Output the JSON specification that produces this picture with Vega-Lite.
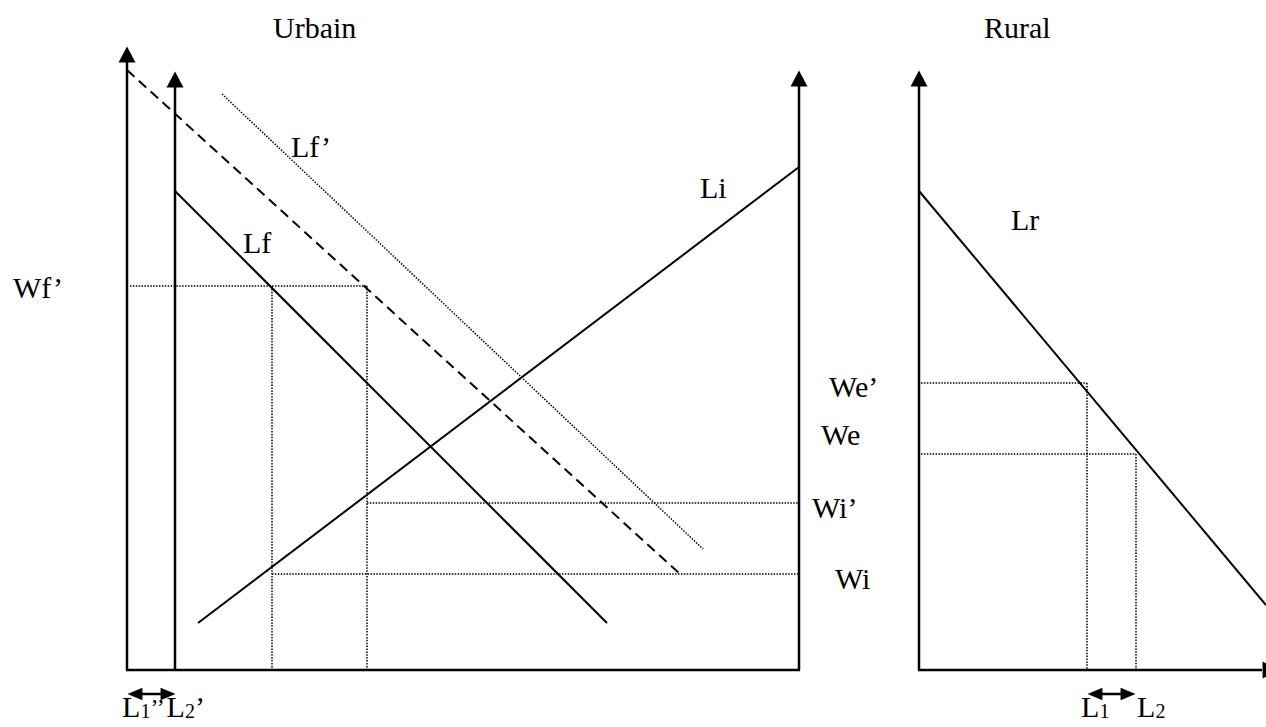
{
  "$schema": "https://vega.github.io/schema/vega-lite/v6.json",
  "width": 1266,
  "height": 727,
  "autosize": {"type": "none"},
  "padding": 0,
  "background": "white",
  "config": {"view": {"stroke": null}},
  "datasets": {
    "axes": [
      {"x": 127, "y": 60, "x2": 127, "y2": 670},
      {"x": 175, "y": 84, "x2": 175, "y2": 670},
      {"x": 126, "y": 670, "x2": 800, "y2": 670},
      {"x": 799, "y": 84, "x2": 799, "y2": 670},
      {"x": 919, "y": 84, "x2": 919, "y2": 670},
      {"x": 918, "y": 670, "x2": 1262, "y2": 670}
    ],
    "curves": [
      {"name": "Lf", "x": 175, "y": 191, "x2": 607, "y2": 623},
      {"name": "Li", "x": 198, "y": 623, "x2": 799, "y2": 167},
      {"name": "Lr", "x": 919, "y": 191, "x2": 1266, "y2": 605}
    ],
    "shifted": [
      {"name": "Lf shifted", "x": 127, "y": 70, "x2": 680, "y2": 574}
    ],
    "dotted": [
      {"name": "Lf'", "x": 222, "y": 94, "x2": 703, "y2": 549},
      {"name": "Wf'", "x": 130, "y": 286, "x2": 367, "y2": 286},
      {"name": "v1", "x": 272, "y": 286, "x2": 272, "y2": 670},
      {"name": "v2", "x": 367, "y": 286, "x2": 367, "y2": 670},
      {"name": "Wi'", "x": 367, "y": 503, "x2": 799, "y2": 503},
      {"name": "Wi", "x": 272, "y": 574, "x2": 799, "y2": 574},
      {"name": "We'", "x": 921, "y": 383, "x2": 1087, "y2": 383},
      {"name": "We", "x": 921, "y": 454, "x2": 1136, "y2": 454},
      {"name": "L1", "x": 1087, "y": 383, "x2": 1087, "y2": 670},
      {"name": "L2", "x": 1136, "y": 454, "x2": 1136, "y2": 670}
    ],
    "shafts": [
      {"x": 134, "y": 694, "x2": 168, "y2": 694},
      {"x": 1094, "y": 694, "x2": 1129, "y2": 694}
    ],
    "upHeads": [
      {"x": 127, "y": 55},
      {"x": 175, "y": 80},
      {"x": 799, "y": 79},
      {"x": 919, "y": 79}
    ],
    "rightAxisHeads": [
      {"x": 1270, "y": 670}
    ],
    "leftHeads": [
      {"x": 135, "y": 694},
      {"x": 1095, "y": 694}
    ],
    "rightHeads": [
      {"x": 168, "y": 694},
      {"x": 1128, "y": 694}
    ],
    "labels": [
      {"text": "Urbain", "x": 273, "y": 38},
      {"text": "Rural", "x": 984, "y": 38},
      {"text": "Lf’", "x": 291, "y": 157},
      {"text": "Lf", "x": 243, "y": 253},
      {"text": "Li", "x": 700, "y": 198},
      {"text": "Lr", "x": 1011, "y": 230},
      {"text": "Wf’", "x": 13, "y": 298},
      {"text": "We’", "x": 829, "y": 397},
      {"text": "We", "x": 821, "y": 445},
      {"text": "Wi’", "x": 812, "y": 518},
      {"text": "Wi", "x": 835, "y": 589},
      {"text": "L", "x": 122, "y": 717},
      {"text": "L", "x": 166.5, "y": 717},
      {"text": "’", "x": 195, "y": 717},
      {"text": "L", "x": 1081, "y": 717},
      {"text": "L", "x": 1137, "y": 717}
    ],
    "quotes": [
      {"text": "’’", "x": 150.5, "y": 715}
    ],
    "subs": [
      {"text": "1", "x": 140.5, "y": 718},
      {"text": "2", "x": 185, "y": 718},
      {"text": "1", "x": 1099.5, "y": 718},
      {"text": "2", "x": 1155.5, "y": 718}
    ]
  },
  "layer": [
    {
      "data": {"name": "axes"},
      "mark": {"type": "rule", "color": "black", "strokeWidth": 2.5},
      "encoding": {
        "x": {"field": "x", "type": "quantitative", "scale": {"domain": [0, 1266], "nice": false, "zero": false}, "axis": null},
        "y": {"field": "y", "type": "quantitative", "scale": {"domain": [0, 727], "nice": false, "zero": false, "reverse": true}, "axis": null},
        "x2": {"field": "x2"},
        "y2": {"field": "y2"}
      }
    },
    {
      "data": {"name": "curves"},
      "mark": {"type": "rule", "color": "black", "strokeWidth": 2},
      "encoding": {
        "x": {"field": "x", "type": "quantitative"},
        "y": {"field": "y", "type": "quantitative"},
        "x2": {"field": "x2"},
        "y2": {"field": "y2"}
      }
    },
    {
      "data": {"name": "shifted"},
      "mark": {"type": "rule", "color": "black", "strokeWidth": 2, "strokeDash": [10, 6]},
      "encoding": {
        "x": {"field": "x", "type": "quantitative"},
        "y": {"field": "y", "type": "quantitative"},
        "x2": {"field": "x2"},
        "y2": {"field": "y2"}
      }
    },
    {
      "data": {"name": "dotted"},
      "mark": {"type": "rule", "color": "black", "strokeWidth": 1.5, "strokeDash": [1.5, 1.4]},
      "encoding": {
        "x": {"field": "x", "type": "quantitative"},
        "y": {"field": "y", "type": "quantitative"},
        "x2": {"field": "x2"},
        "y2": {"field": "y2"}
      }
    },
    {
      "data": {"name": "shafts"},
      "mark": {"type": "rule", "color": "black", "strokeWidth": 2.5},
      "encoding": {
        "x": {"field": "x", "type": "quantitative"},
        "y": {"field": "y", "type": "quantitative"},
        "x2": {"field": "x2"},
        "y2": {"field": "y2"}
      }
    },
    {
      "data": {"name": "upHeads"},
      "mark": {"type": "point", "filled": true, "color": "black", "opacity": 1, "size": 290, "shape": "M0,-1L1,0.875L-1,0.875Z"},
      "encoding": {
        "x": {"field": "x", "type": "quantitative"},
        "y": {"field": "y", "type": "quantitative"}
      }
    },
    {
      "data": {"name": "rightAxisHeads"},
      "mark": {"type": "point", "filled": true, "color": "black", "opacity": 1, "size": 290, "shape": "M1,0L-0.875,-1L-0.875,1Z"},
      "encoding": {
        "x": {"field": "x", "type": "quantitative"},
        "y": {"field": "y", "type": "quantitative"}
      }
    },
    {
      "data": {"name": "leftHeads"},
      "mark": {"type": "point", "filled": true, "color": "black", "opacity": 1, "size": 220, "shape": "M-1,0L1,-0.85L1,0.85Z"},
      "encoding": {
        "x": {"field": "x", "type": "quantitative"},
        "y": {"field": "y", "type": "quantitative"}
      }
    },
    {
      "data": {"name": "rightHeads"},
      "mark": {"type": "point", "filled": true, "color": "black", "opacity": 1, "size": 220, "shape": "M1,0L-1,-0.85L-1,0.85Z"},
      "encoding": {
        "x": {"field": "x", "type": "quantitative"},
        "y": {"field": "y", "type": "quantitative"}
      }
    },
    {
      "data": {"name": "labels"},
      "mark": {"type": "text", "font": "Liberation Serif", "fontSize": 30, "align": "left", "baseline": "alphabetic", "color": "black"},
      "encoding": {
        "x": {"field": "x", "type": "quantitative"},
        "y": {"field": "y", "type": "quantitative"},
        "text": {"field": "text", "type": "nominal"}
      }
    },
    {
      "data": {"name": "quotes"},
      "mark": {"type": "text", "font": "Liberation Serif", "fontSize": 24, "align": "left", "baseline": "alphabetic", "color": "black"},
      "encoding": {
        "x": {"field": "x", "type": "quantitative"},
        "y": {"field": "y", "type": "quantitative"},
        "text": {"field": "text", "type": "nominal"}
      }
    },
    {
      "data": {"name": "subs"},
      "mark": {"type": "text", "font": "Liberation Serif", "fontSize": 20, "align": "left", "baseline": "alphabetic", "color": "black"},
      "encoding": {
        "x": {"field": "x", "type": "quantitative"},
        "y": {"field": "y", "type": "quantitative"},
        "text": {"field": "text", "type": "nominal"}
      }
    }
  ]
}
